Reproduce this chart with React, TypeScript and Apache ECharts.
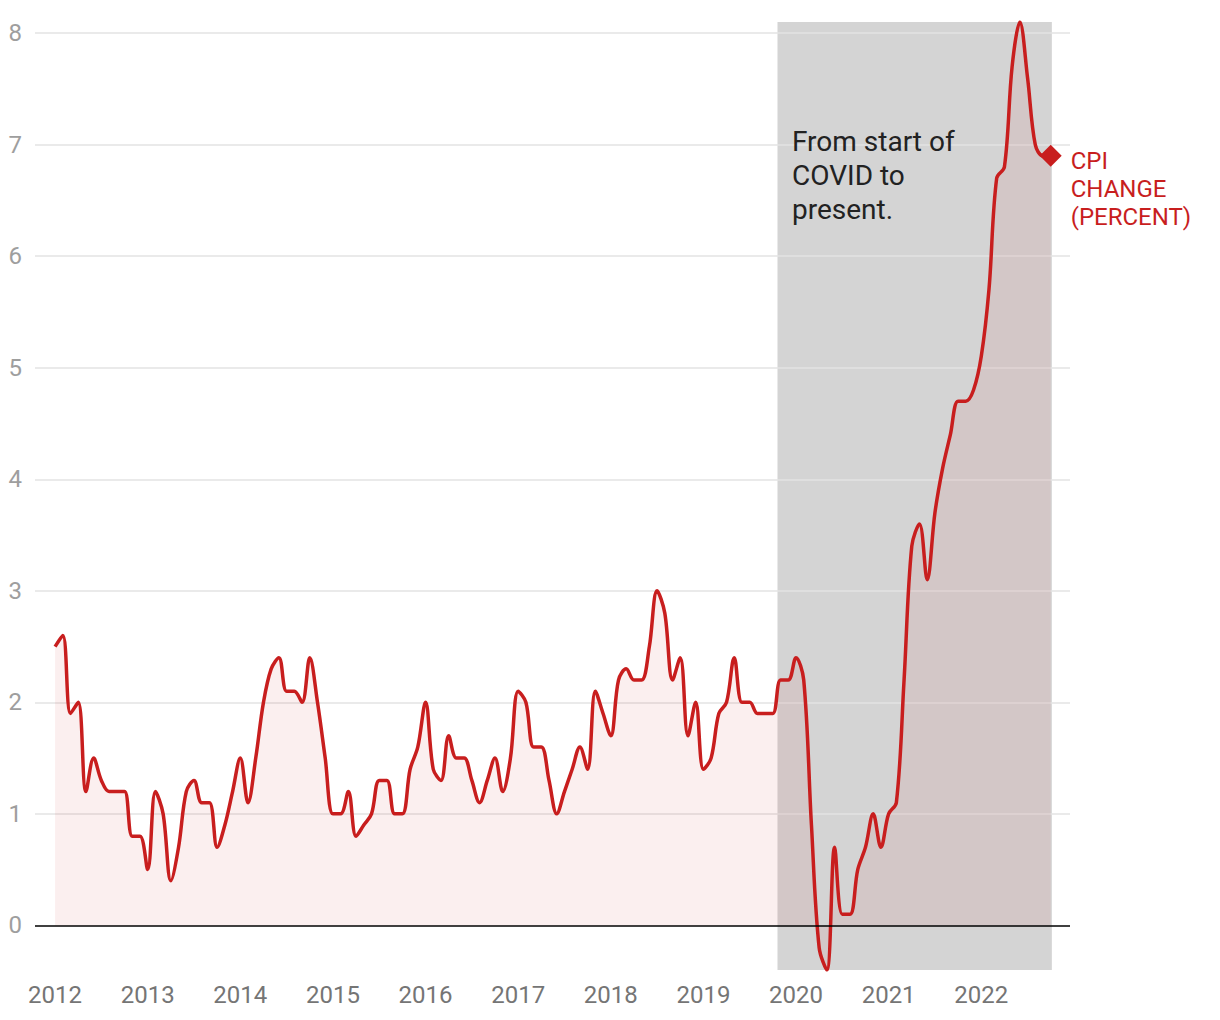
import React, { useEffect, useRef } from 'react';
import * as echarts from 'echarts';

// Monthly CPI change (percent), Jan 2012 .. Oct 2022
const START_YEAR = 2012;
const cpiValues: number[] = [
  // 2012
  2.5, 2.6, 1.9, 2.0, 1.2, 1.5, 1.3, 1.2, 1.2, 1.2, 0.8, 0.8,
  // 2013
  0.5, 1.2, 1.0, 0.4, 0.7, 1.2, 1.3, 1.1, 1.1, 0.7, 0.9, 1.2,
  // 2014
  1.5, 1.1, 1.5, 2.0, 2.3, 2.4, 2.1, 2.1, 2.0, 2.4, 2.0, 1.5,
  // 2015
  1.0, 1.0, 1.2, 0.8, 0.9, 1.0, 1.3, 1.3, 1.0, 1.0, 1.4, 1.6,
  // 2016
  2.0, 1.4, 1.3, 1.7, 1.5, 1.5, 1.3, 1.1, 1.3, 1.5, 1.2, 1.5,
  // 2017
  2.1, 2.0, 1.6, 1.6, 1.3, 1.0, 1.2, 1.4, 1.6, 1.4, 2.1, 1.9,
  // 2018
  1.7, 2.2, 2.3, 2.2, 2.2, 2.5, 3.0, 2.8, 2.2, 2.4, 1.7, 2.0,
  // 2019
  1.4, 1.5, 1.9, 2.0, 2.4, 2.0, 2.0, 1.9, 1.9, 1.9, 2.2, 2.2,
  // 2020
  2.4, 2.2, 0.9, -0.2, -0.4, 0.7, 0.1, 0.1, 0.5, 0.7, 1.0, 0.7,
  // 2021
  1.0, 1.1, 2.2, 3.4, 3.6, 3.1, 3.7, 4.1, 4.4, 4.7, 4.7, 4.8,
  // 2022
  5.1, 5.7, 6.7, 6.8, 7.7, 8.1, 7.6, 7.0, 6.9, 6.9,
];
const yearLabels: number[] = [2012, 2013, 2014, 2015, 2016, 2017, 2018, 2019, 2020, 2021, 2022];
const yTicks: number[] = [0, 1, 2, 3, 4, 5, 6, 7, 8];
const covidBandStart = 93.6; // months since Jan 2012
const covidBandEnd = 129.15;
const endLabelText = 'CPI\nCHANGE\n(PERCENT)';
const annotationText = 'From start of\nCOVID to\npresent.';

const X_MIN = -2.6;
const X_MAX = 131.5;
const Y_MIN = -0.4;
const Y_MAX = 8.1;

const RED = '#c81e1e';
const FONT = 'Roboto, "Noto Sans", sans-serif';

export default function App() {
  const ref = useRef<HTMLDivElement>(null);

  useEffect(() => {
    if (!ref.current) return;
    const chart = echarts.init(ref.current, null, { renderer: 'svg' });
    const seriesData = cpiValues.map((v, i) => [i, v]);
    const lastIdx = cpiValues.length - 1;
    const tickPositions = yearLabels.map((y) => (y - START_YEAR) * 12);

    chart.setOption({
      animation: false,
      backgroundColor: '#ffffff',
      textStyle: { fontFamily: FONT },
      grid: {
        left: 35,
        right: 150,
        top: 22,
        bottom: 50,
        containLabel: false,
        outerBoundsMode: 'none',
      },
      xAxis: {
        type: 'value',
        min: X_MIN,
        max: X_MAX,
        axisLine: { show: false },
        axisTick: { show: false },
        splitLine: { show: false },
        axisLabel: {
          customValues: tickPositions,
          formatter: (v: number) => String(START_YEAR + Math.round(v / 12)),
          color: '#757575',
          fontSize: 24,
          fontFamily: FONT,
          margin: 13,
        },
      },
      yAxis: {
        type: 'value',
        min: Y_MIN,
        max: Y_MAX,
        axisLine: { show: false },
        axisTick: { show: false },
        splitLine: { show: false },
        axisLabel: {
          customValues: yTicks,
          color: '#9e9e9e',
          fontSize: 24,
          fontFamily: FONT,
          margin: 13,
        },
      },
      graphic: [
        {
          type: 'text',
          left: 792,
          top: 124,
          z: 10,
          style: {
            text: annotationText,
            fill: '#222222',
            font: `28px ${FONT}`,
            lineHeight: 34,
          },
        },
      ],
      series: [
        {
          type: 'line',
          data: [],
          silent: true,
          markArea: {
            silent: true,
            z: 1,
            itemStyle: { color: '#d4d4d4' },
            label: { show: false },
            data: [[{ xAxis: covidBandStart }, { xAxis: covidBandEnd }]],
          },
          markLine: {
            silent: true,
            z: 1.5,
            symbol: ['none', 'none'],
            label: { show: false },
            lineStyle: { color: '#e3e3e3', width: 1.5, type: 'solid' },
            data: yTicks.filter((t) => t !== 0).map((t) => ({ yAxis: t })),
          },
        },
        {
          type: 'line',
          data: seriesData,
          smooth: 0.35,
          symbol: 'none',
          z: 2,
          lineStyle: { color: RED, width: 3.5 },
          areaStyle: { color: 'rgba(200,25,25,0.1)', origin: 'auto' },
          markLine: {
            silent: true,
            z: 5,
            symbol: ['none', 'none'],
            label: { show: false },
            lineStyle: { color: '#000000', width: 1.6, type: 'solid' },
            data: [{ yAxis: 0 }],
          },
          markPoint: {
            silent: true,
            z: 6,
            symbol: 'diamond',
            symbolSize: 22,
            itemStyle: { color: RED },
            data: [
              {
                coord: [lastIdx, cpiValues[lastIdx]],
                label: {
                  show: true,
                  position: 'right',
                  distance: 9,
                  offset: [0, 33],
                  formatter: endLabelText,
                  color: RED,
                  fontSize: 24,
                  fontFamily: FONT,
                  lineHeight: 28,
                  align: 'left',
                },
              },
            ],
          },
        },
      ],
    });

    return () => {
      chart.dispose();
    };
  }, []);

  return (
    <div
      ref={ref}
      style={{ position: 'absolute', left: 0, top: 0, width: 1220, height: 1020 }}
    />
  );
}
